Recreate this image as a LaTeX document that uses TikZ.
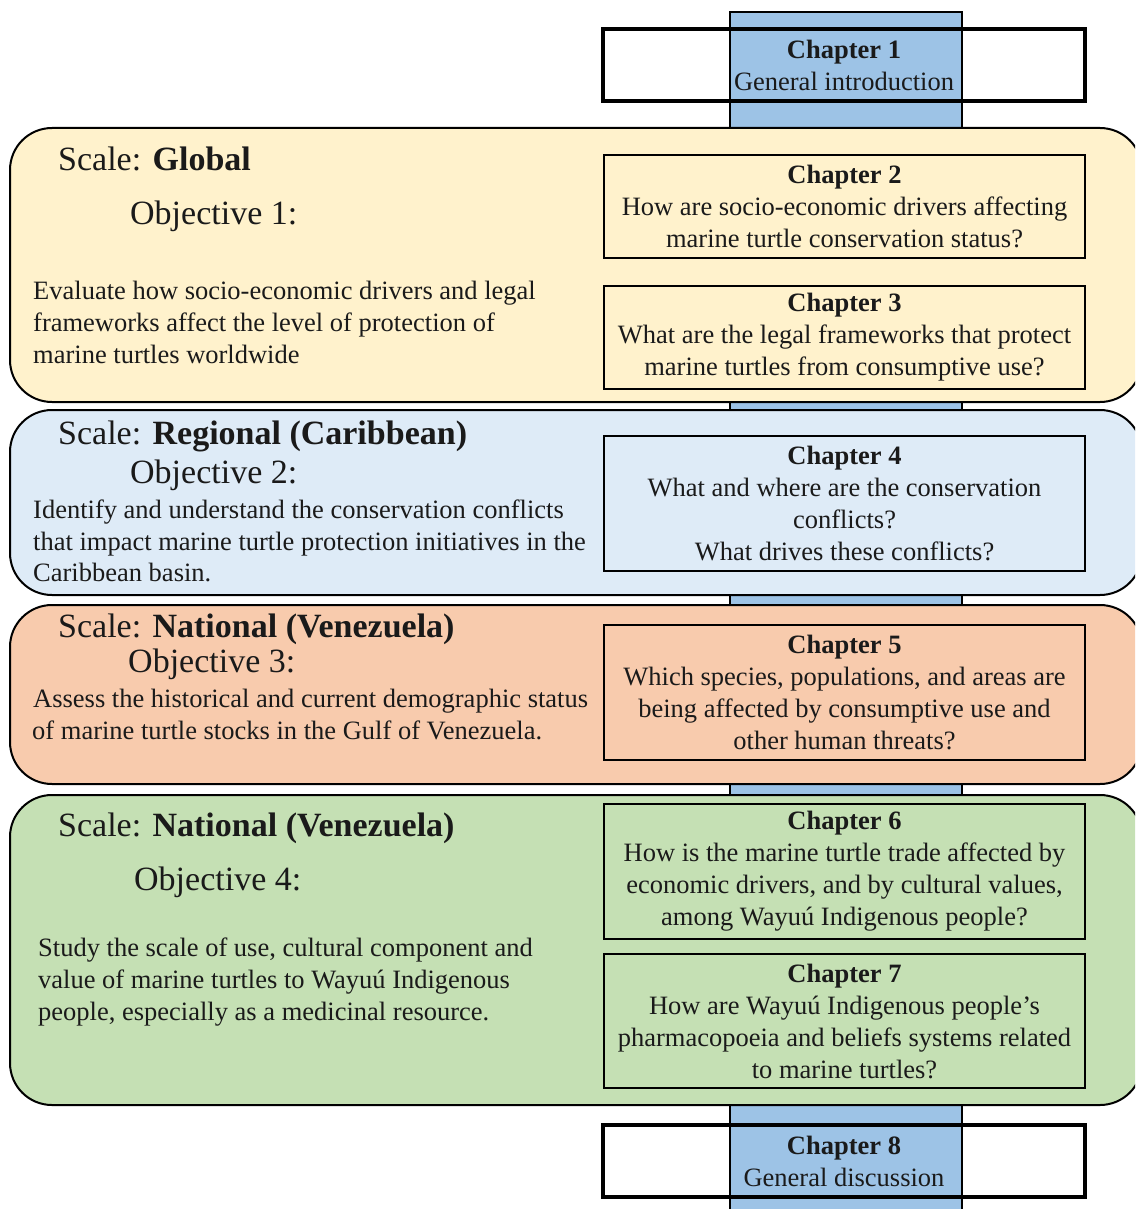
\documentclass[tikz,border=0pt]{standalone}
\usepackage{fontspec}
\setmainfont{Liberation Serif}
\definecolor{colblue}{HTML}{9DC3E6}
\definecolor{yband}{HTML}{FFF2CC}
\definecolor{bband}{HTML}{DEEBF7}
\definecolor{oband}{HTML}{F8CBAD}
\definecolor{gband}{HTML}{C5E0B4}
\definecolor{txt}{HTML}{1A1A1A}
\begin{document}
\begin{tikzpicture}[x=1pt,y=-1pt,
  colbar/.style={draw=black,line width=2pt,fill=colblue,inner sep=0pt,outer sep=0pt,minimum width=232pt,minimum height=1220pt,anchor=north west},
  endbox/.style={draw=black,line width=3.5pt,inner sep=0pt,outer sep=0pt,minimum width=482pt,minimum height=72pt,anchor=north west,align=center,text=txt,font=\fontsize{26.5}{32}\selectfont},
  band/.style={draw=black,line width=2pt,rounded corners=42pt,inner sep=0pt,outer sep=0pt,minimum width=1132pt,anchor=north west},
  chapbox/.style={draw=black,line width=2pt,inner sep=0pt,outer sep=0pt,minimum width=481pt,anchor=north west,align=center,text=txt,font=\fontsize{26.5}{32}\selectfont},
  scaletxt/.style={anchor=base west,inner sep=0pt,text=txt,font=\fontsize{34}{38}\selectfont},
  objtxt/.style={anchor=base west,inner sep=0pt,text=txt,font=\fontsize{34}{38}\selectfont},
  paratxt/.style={anchor=base west,inner sep=0pt,text=txt,font=\fontsize{26.5}{32}\selectfont}
]
\useasboundingbox (0,0) rectangle (1135,1209);
\clip (0,0) rectangle (1135,1209);
\fill[white] (0,0) rectangle (1135,1209);

\node[colbar] (col) at (730,12) {};

\node[endbox] (ch1) at (603,29) {\textbf{Chapter 1}\\General introduction};

% Band 1
\node[band,fill=yband,minimum height=274pt] (b1) at (10,128) {};
\node[chapbox,minimum height=103pt] (ch2) at (604,155) {\textbf{Chapter 2}\\How are socio-economic drivers affecting\\marine turtle conservation status?};
\node[chapbox,minimum height=103pt] (ch3) at (604,286) {\textbf{Chapter 3}\\What are the legal frameworks that protect\\marine turtles from consumptive use?};
\node[scaletxt] (s1) at (58,171) {Scale: \textbf{Global}};
\node[objtxt] (o1) at (130,224) {Objective 1:};
\node[paratxt] (p1a) at (33,299) {Evaluate how socio-economic drivers and legal};
\node[paratxt] (p1b) at (33,331) {frameworks affect the level of protection of};
\node[paratxt] (p1c) at (33,363) {marine turtles worldwide};

% Band 2
\node[band,fill=bband,minimum height=185pt] (b2) at (10,410) {};
\node[chapbox,minimum height=135pt] (ch4) at (604,436) {\textbf{Chapter 4}\\What and where are the conservation\\conflicts?\\What drives these conflicts?};
\node[scaletxt] (s2) at (58,444) {Scale: \textbf{Regional (Caribbean)}};
\node[objtxt] (o2) at (130,483) {Objective 2:};
\node[paratxt] (p2a) at (33,518) {Identify and understand the conservation conflicts};
\node[paratxt] (p2b) at (33,550) {that impact marine turtle protection initiatives in the};
\node[paratxt] (p2c) at (33,581) {Caribbean basin.};

% Band 3
\node[band,fill=oband,minimum height=179pt] (b3) at (10,605) {};
\node[chapbox,minimum height=135pt] (ch5) at (604,625) {\textbf{Chapter 5}\\Which species, populations, and areas are\\being affected by consumptive use and\\other human threats?};
\node[scaletxt] (s3) at (58,637) {Scale: \textbf{National (Venezuela)}};
\node[objtxt] (o3) at (128,672) {Objective 3:};
\node[paratxt] (p3a) at (33,707) {Assess the historical and current demographic status};
\node[paratxt] (p3b) at (32,739) {of marine turtle stocks in the Gulf of Venezuela.};

% Band 4
\node[band,fill=gband,minimum height=310pt] (b4) at (10,795) {};
\node[chapbox,minimum height=135pt] (ch6) at (604,804) {\textbf{Chapter 6}\\How is the marine turtle trade affected by\\economic drivers, and by cultural values,\\among Wayuú Indigenous people?};
\node[chapbox,minimum height=134pt] (ch7) at (604,954) {\textbf{Chapter 7}\\How are Wayuú Indigenous people’s\\pharmacopoeia and beliefs systems related\\to marine turtles?};
\node[scaletxt] (s4) at (58,836) {Scale: \textbf{National (Venezuela)}};
\node[objtxt] (o4) at (134,890) {Objective 4:};
\node[paratxt] (p4a) at (38,956) {Study the scale of use, cultural component and};
\node[paratxt] (p4b) at (38,988) {value of marine turtles to Wayuú Indigenous};
\node[paratxt] (p4c) at (38,1020) {people, especially as a medicinal resource.};

\node[endbox] (ch8) at (603,1125) {\textbf{Chapter 8}\\General discussion};
\end{tikzpicture}
\end{document}
